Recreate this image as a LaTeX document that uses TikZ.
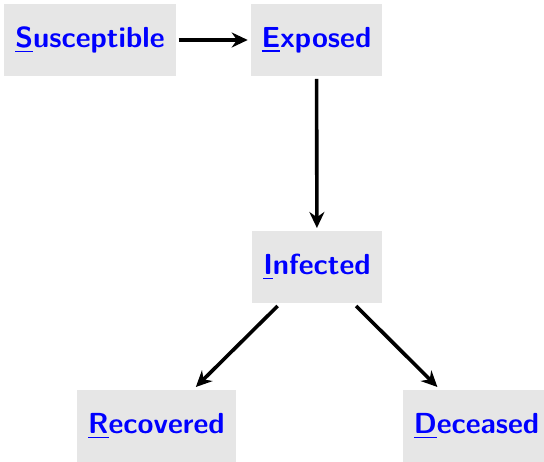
\documentclass[tikz,border=0pt]{standalone}
\usetikzlibrary{arrows.meta}
\definecolor{boxgray}{HTML}{E6E6E6}
\newcommand\firstul[1]{\setbox0\hbox{#1}\rlap{\color{blue}\rule[-4.5pt]{\wd0}{1.5pt}}#1}
\begin{document}
\begin{tikzpicture}[x=1pt,y=-1pt,
  statebox/.style={fill=boxgray, text=blue, font=\fontsize{29}{34}\selectfont\sffamily\bfseries,
    minimum height=72pt, inner xsep=11pt, outer sep=3pt},
  flow/.style={-{Stealth[length=16pt,width=15pt]}, line width=3.6pt}]
\useasboundingbox (0,0) rectangle (544,462);
\node[statebox] (S) at (90,40) {\firstul{S}usceptible};
\node[statebox] (E) at (316.5,40) {\firstul{E}xposed};
\node[statebox] (I) at (317,267) {\firstul{I}nfected};
\node[statebox] (R) at (156.5,426) {\firstul{R}ecovered};
\node[statebox] (D) at (476.5,426) {\firstul{D}eceased};
\draw[flow] (S) -- (E);
\draw[flow] (E) -- (I);
\draw[flow] (I) -- (R);
\draw[flow] (I) -- (D);
\end{tikzpicture}
\end{document}
